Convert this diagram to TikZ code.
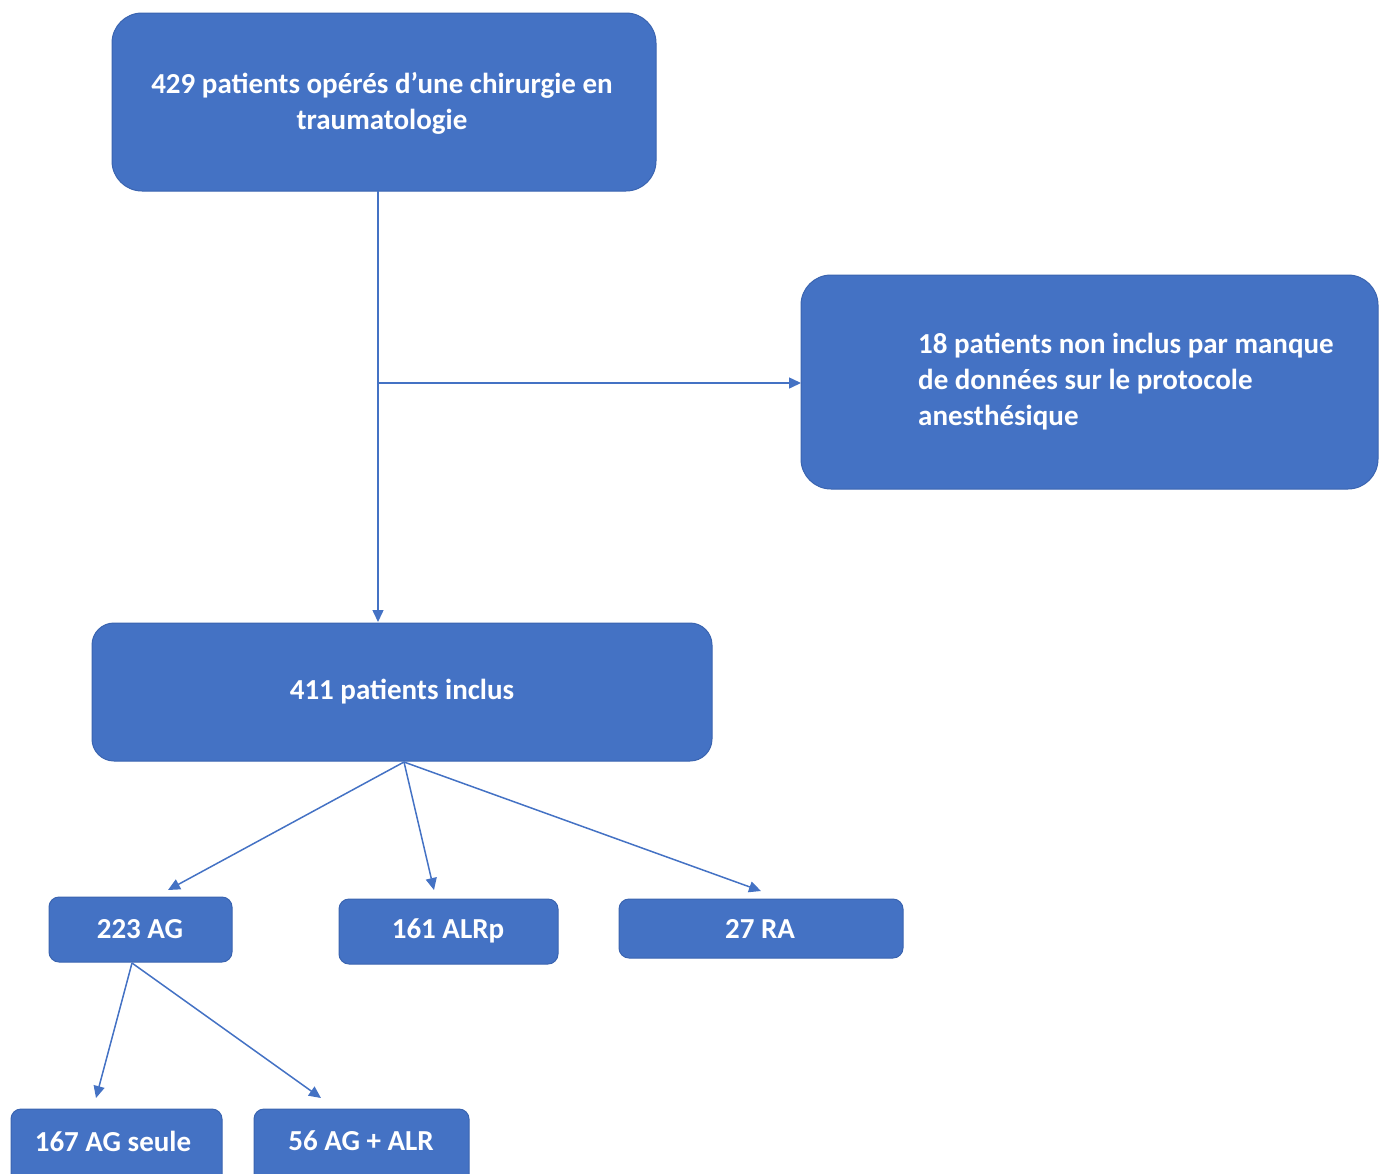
\documentclass[tikz,border=0pt]{standalone}
\usepackage{fontspec}
\setmainfont{Carlito}
\usetikzlibrary{arrows.meta}
\definecolor{boxblue}{HTML}{4472C4}
\definecolor{boxedge}{HTML}{3A64B0}
\begin{document}
\begin{tikzpicture}[x=1pt,y=-1pt,
  box/.style={draw=boxedge,line width=1pt,fill=boxblue,text=white,inner sep=0pt},
  bigbox/.style={box,rounded corners=30pt},
  smallbox/.style={box,rounded corners=10pt},
  conn/.style={draw=boxblue,line width=1.5pt,-{Triangle[length=12pt,width=11pt]}},
  lbl/.style={text=white,font=\fontsize{29}{36}\selectfont\bfseries,inner sep=0pt}]
\useasboundingbox (0,0) rectangle (1384,1173);
\clip (0,0) rectangle (1384,1173);
% boxes
\draw[bigbox] (112,13) rectangle (656,191);
\node[lbl,align=center] (top) at (382,103) {429 patients opérés d’une chirurgie en\\traumatologie};
\coordinate (topb) at (378,191);
\draw[bigbox] (801,275) rectangle (1378,489);
\node[lbl,align=left,anchor=west] (excl) at (918,382) {18 patients non inclus par manque\\de données sur le protocole\\anesthésique};
\coordinate (exclw) at (801,383);
\draw[bigbox,rounded corners=22pt] (92,623) rectangle (712,761);
\node[lbl] (incl) at (402,692) {411 patients inclus};
\coordinate (inclt) at (378,622);
\coordinate (inclb) at (404,762);
\draw[smallbox] (49,897) rectangle (232,962);
\node[lbl] (ag) at (140,929) {223 AG};
\coordinate (agt) at (168,890);
\coordinate (agb) at (132,963);
\draw[smallbox] (339,899) rectangle (558,964);
\node[lbl] (alrp) at (448,931) {161 ALRp};
\coordinate (alrpt) at (434,890);
\draw[smallbox] (619,899) rectangle (903,958);
\node[lbl] (ra) at (760,929) {27 RA};
\coordinate (rat) at (761,891);
\draw[smallbox] (11,1109) rectangle (222,1200);
\node[lbl] (seule) at (113,1141) {167 AG seule};
\coordinate (seulet) at (96,1098);
\draw[smallbox] (254,1109) rectangle (469,1200);
\node[lbl] (agalr) at (361,1141) {56 AG + ALR};
\coordinate (agalrt) at (321,1098);
% connectors
\coordinate (split) at (378,383);
\draw[conn] (topb) -- (inclt);
\draw[conn] (split) -- (exclw);
\draw[conn] (inclb) -- (agt);
\draw[conn] (inclb) -- (alrpt);
\draw[conn] (inclb) -- (rat);
\draw[conn] (agb) -- (seulet);
\draw[conn] (agb) -- (agalrt);
\end{tikzpicture}
\end{document}
